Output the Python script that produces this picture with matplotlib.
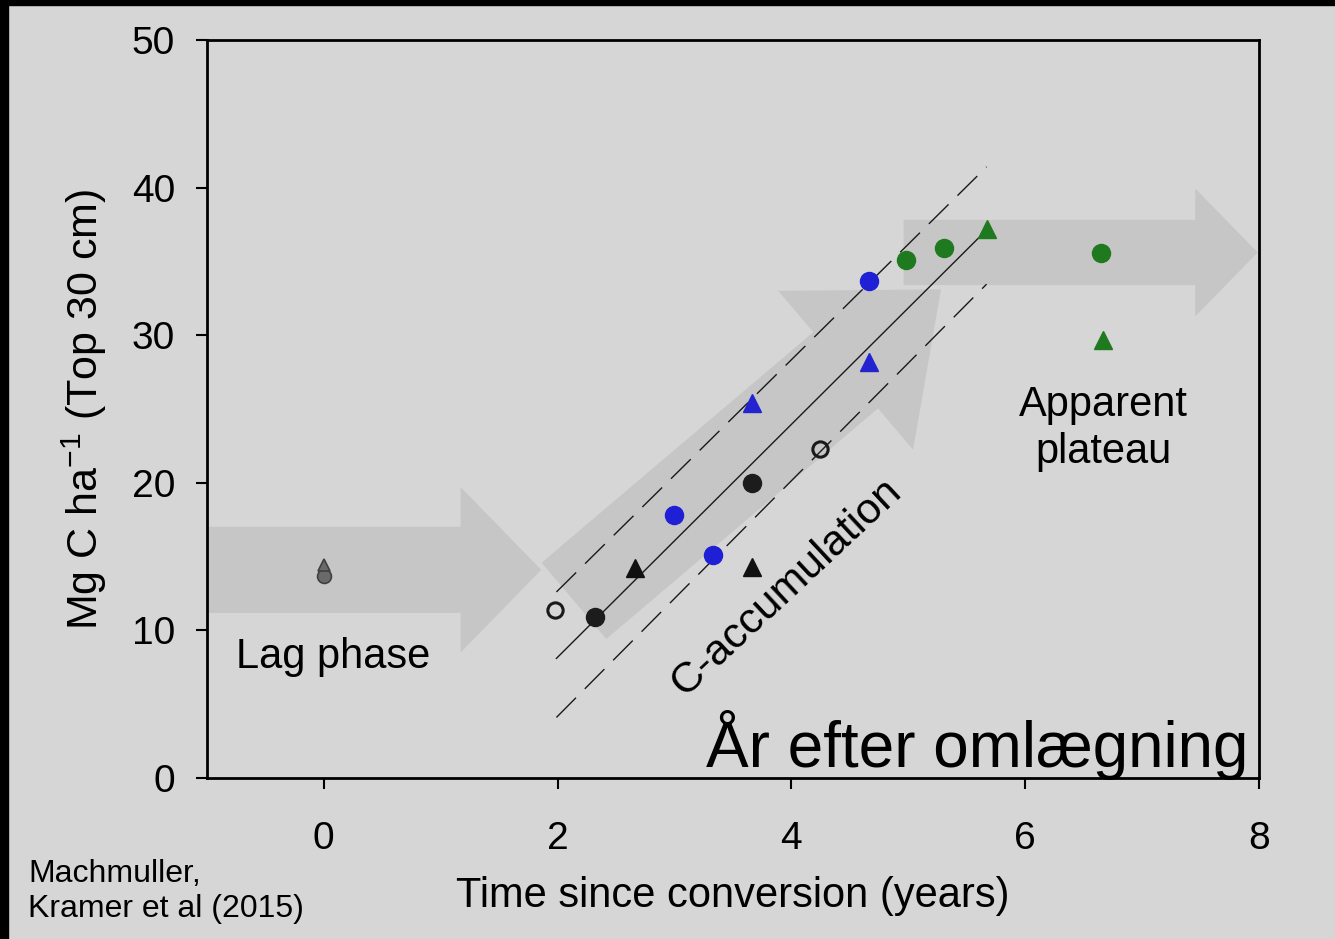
import numpy as np
import matplotlib.pyplot as plt
from matplotlib.patches import FancyArrowPatch, Rectangle

plt.rcParams['font.family'] = ['Liberation Sans', 'DejaVu Sans']
plt.rcParams['mathtext.fontset'] = 'custom'
plt.rcParams['mathtext.rm'] = 'Liberation Sans'
plt.rcParams['mathtext.default'] = 'regular'

# values: years since conversion vs Mg C/ha (top 30 cm)
drop_x = [0.0]
drop_tri_y = [14.4]
drop_circ_y = [13.7]
open_x = [1.98, 4.245]
open_y = [11.4, 22.3]
blk_circ_x = [2.32, 3.66]
blk_circ_y = [10.9, 19.95]
blk_tri_x = [2.66, 3.66]
blk_tri_y = [14.25, 14.3]
blue_circ_x = [3.0, 3.33, 4.66]
blue_circ_y = [17.8, 15.1, 33.7]
blue_tri_x = [3.66, 4.66]
blue_tri_y = [25.4, 28.15]
green_circ_x = [4.98, 5.31, 6.65]
green_circ_y = [35.1, 35.9, 35.55]
green_tri_x = [5.67, 6.67]
green_tri_y = [37.2, 29.7]

# regression line and band
fit_x = [1.99, 5.68]
fit_y = [8.1, 37.2]
band_x = [1.99, 5.67]
band_hi = [12.6, 41.4]
band_lo = [4.1, 33.45]

# phase arrows: start, end (data), tail width, head width, head length (points)
phases = {
    "lag": ((-1.0, 14.1), (1.86, 14.1), 62, 119, 58),
    "accum": ((2.14, 12.0), (5.28, 33.1), 72, 150, 90),
    "plateau": ((4.96, 35.6), (7.99, 35.6), 47, 92, 45),
}

xticks = [0, 2, 4, 6, 8]
yticks = [0, 10, 20, 30, 40, 50]

bg = '#d6d6d6'
fig = plt.figure(figsize=(13.35, 9.39), dpi=100, facecolor=bg)
ax = fig.add_axes([0.155, 0.1715, 0.788, 0.786])
ax.set_facecolor(bg)

for name, (p0, p1, tw, hw, hl) in phases.items():
    arr = FancyArrowPatch(p0, p1, arrowstyle=f"simple,head_length={hl},head_width={hw},tail_width={tw}",
                          mutation_scale=1, shrinkA=0, shrinkB=0, color='#c6c6c6', lw=0, zorder=1)
    ax.add_patch(arr)

ax.plot(fit_x, fit_y, color='#1a1a1a', lw=1.0, zorder=3)
ax.plot(band_x, band_hi, color='#1a1a1a', lw=1.0, dashes=(20, 9), zorder=3)
ax.plot(band_x, band_lo, color='#1a1a1a', lw=1.0, dashes=(20, 9), zorder=3)

ax.plot(drop_x, drop_circ_y, 'o', ms=10, color='#6a6a6a', mec='#404040', mew=1.2, zorder=4)
ax.plot(drop_x, drop_tri_y, '^', ms=9, color='#6a6a6a', mec='#404040', mew=1.2, zorder=4)
ax.plot(open_x, open_y, 'o', ms=11, mfc='none', mec='#1a1a1a', mew=2.2, zorder=5)
ax.plot(blk_circ_x, blk_circ_y, 'o', ms=13, color='#1c1c1c', zorder=5)
ax.plot(blk_tri_x, blk_tri_y, '^', ms=13, color='#111111', zorder=5)
ax.plot(blue_circ_x, blue_circ_y, 'o', ms=13, color='#1f1fd6', zorder=5)
ax.plot(blue_tri_x, blue_tri_y, '^', ms=13, color='#2323d0', zorder=5)
ax.plot(green_circ_x, green_circ_y, 'o', ms=13, color='#1f7a1f', zorder=5)
ax.plot(green_tri_x, green_tri_y, '^', ms=13, color='#1f7a1f', zorder=5)

ax.text(-0.75, 7.46, "Lag phase", fontsize=30, ha='left', va='baseline', zorder=6)
ax.text(3.96, 12.96, "C-accumulation", fontsize=31, rotation=43, rotation_mode='anchor',
        ha='center', va='center', zorder=6)
# baseline alignment of a two-line text follows the last line
ax.text(6.67, 21.37, "Apparent\nplateau", fontsize=30, ha='center', va='baseline',
        multialignment='center', zorder=6)

ax.set_xlim(-1, 8)
ax.set_ylim(0, 50)
ax.set_xticks(xticks)
ax.set_yticks(yticks)
ax.tick_params(axis='x', labelsize=28, length=8, width=1.5, pad=23)
ax.tick_params(axis='y', labelsize=28, length=8, width=1.5, pad=15)
for s in ax.spines.values():
    s.set_linewidth(2)
ax.set_xlabel("Time since conversion (years)", fontsize=30, labelpad=14)
ax.set_ylabel(r"Mg C ha$^{-1}$ (Top 30 cm)", fontsize=31, labelpad=16)

fig.text(0.935, 0.183, "År efter omlægning", fontsize=46, ha='right', va='baseline', zorder=10)
fig.text(0.021, 0.0234, "Machmuller,\nKramer et al (2015)", fontsize=23, ha='left', va='baseline',
         linespacing=1.22)

# black frame strips of the slide screenshot
fig.add_artist(Rectangle((0, 0), 8 / 1335, 1, transform=fig.transFigure, color='black', zorder=20))
fig.add_artist(Rectangle((0, 1 - 5 / 939), 1, 5 / 939, transform=fig.transFigure, color='black', zorder=20))

fig.savefig("out.png", dpi=100, facecolor=bg)
